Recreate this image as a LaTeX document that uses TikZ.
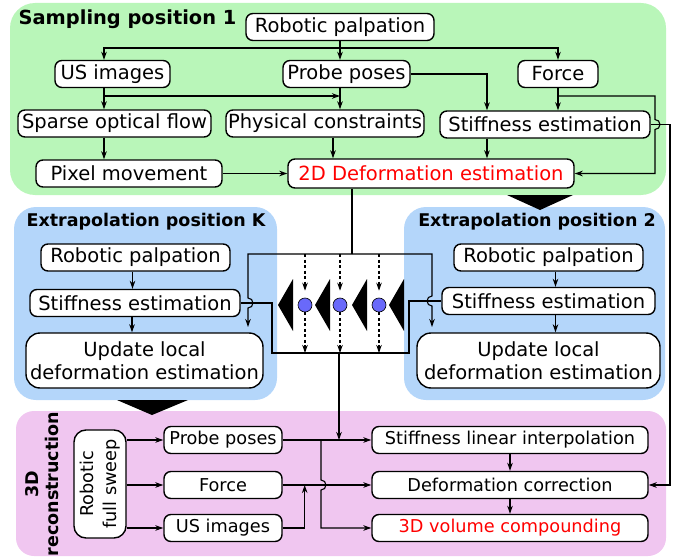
\documentclass[tikz,border=0pt]{standalone}
\usepackage{fontspec}
\setmainfont{DejaVu Sans}
\usepackage{tikz}
\usetikzlibrary{arrows.meta}
\definecolor{SampleGreen}{RGB}{185,246,185}
\definecolor{ExtraBlue}{RGB}{180,214,250}
\definecolor{ReconPink}{RGB}{240,198,240}
\definecolor{MarkerBlue}{RGB}{105,105,250}
\definecolor{OutRed}{RGB}{255,0,0}

\tikzset{
  box/.style={draw,fill=white,rounded corners=7pt,line width=1.4pt,
              minimum height=27pt,inner sep=2pt,
              font=\fontsize{19.5}{22}\selectfont},
  recbox/.style={box,font=\fontsize{17.7}{21}\selectfont},
  bigbox/.style={box,rounded corners=14pt,minimum height=55pt,align=center,
                 font=\fontsize{19.5}{23}\selectfont},
  title/.style={font=\bfseries\fontsize{17.5}{20}\selectfont},
  arr/.style={-{Stealth[length=8pt,width=5.5pt]},line width=1.1pt},
  wire/.style={line width=1.1pt},
  dot/.style={circle,draw,fill=MarkerBlue,line width=0.6pt,minimum size=14pt,inner sep=0pt},
}

\begin{document}
\begin{tikzpicture}[x=1pt,y=-1pt]
  \useasboundingbox (0,0) rectangle (680,559);

  % regions
  \fill[SampleGreen,rounded corners=25pt] (10,3) rectangle (666,195);
  \fill[ExtraBlue,rounded corners=22pt] (14,207) rectangle (277,400);
  \fill[ExtraBlue,rounded corners=22pt] (404,207) rectangle (665,400);
  \fill[ReconPink,rounded corners=18pt] (16,411) rectangle (666,556);
  \fill (507,195) -- (573,195) -- (540,210) -- cycle;
  \fill (117,400) -- (188,400) -- (152,415) -- cycle;

  % sampling position 1
  \node[title,font=\bfseries\fontsize{19.4}{22}\selectfont] (tS) at (127.5,19) {Sampling position 1};
  \node[box,minimum width=188pt] (rp1) at (340,27) {Robotic palpation};
  \node[box,minimum width=115pt] (us1) at (112.5,74) {US images};
  \node[box,minimum width=127pt] (pp1) at (346.5,74) {Probe poses};
  \node[box,minimum width=80pt]  (f1)  at (558,74) {Force};
  \node[box,minimum width=193pt] (sof1) at (114.5,123.5) {Sparse optical flow};
  \node[box,minimum width=198pt] (pc1) at (325,123.5) {Physical constraints};
  \node[box,minimum width=210pt] (se1) at (545,124.5) {Stiffness estimation};
  \node[box,minimum width=186pt] (pm1) at (129,173.5) {Pixel movement};
  \node[box,minimum width=286pt,minimum height=29pt,text=OutRed] (de1) at (431,173.5) {2D Deformation estimation};

  \coordinate (fork1) at (340,48);
  \coordinate (fork2) at (104,96);
  \coordinate (fork3) at (558,96);
  \coordinate (rail) at (670,0);

  \draw[wire] (rp1.south) -- (fork1);
  \draw[arr] (fork1) -- (fork1 |- pp1.north);
  \draw[arr] (fork1) -| (fork2 |- us1.north);
  \draw[arr] (fork1) -| (f1.north);
  \draw[arr] (fork2 |- us1.south) -- (fork2 |- sof1.north);
  \draw[arr] (fork2) -- (fork1 |- fork2);
  \draw[arr] (fork1 |- pp1.south) -- (fork1 |- pc1.north);
  \draw[arr] (pp1.east) -| ([xshift=-58pt]se1.north);
  \draw[arr] (f1.south) -- (f1.south |- se1.north);
  \draw[arr] (fork3) -- ++(97,0) -- ++(0,23.5) arc(-90:90:5) |- (de1.east);
  \draw[arr] (fork2 |- sof1.south) -- (fork2 |- pm1.north);
  \draw[arr] (pm1.east) -- (de1.west);
  \draw[arr] ([xshift=8pt]pc1.south) -- ([xshift=8pt]pc1.south |- de1.north);
  \draw[arr] ([xshift=-58pt]se1.south) -- ([xshift=-58pt]se1.south |- de1.north);

  % extrapolation position K
  \node[title] (tK) at (146,222) {Extrapolation position K};
  \node[box,minimum width=189pt] (rpK) at (135.5,257.5) {Robotic palpation};
  \node[box,minimum width=210pt] (seK) at (135,303) {Stiffness estimation};
  \node[bigbox,minimum width=237pt] (updK) at (144.5,360.5) {Update local\\deformation estimation};
  \draw[arr] ([xshift=-3pt]rpK.south) -- ([xshift=-3pt]rpK.south |- seK.north);
  \draw[arr] ([xshift=-3pt]seK.south) -- ([xshift=-3pt]seK.south |- updK.north);

  % extrapolation position 2
  \node[title] (t2) at (537,222) {Extrapolation position 2};
  \node[box,minimum width=189pt] (rp2) at (548.5,257.5) {Robotic palpation};
  \node[box,minimum width=213pt] (se2) at (548.5,301) {Stiffness estimation};
  \node[bigbox,minimum width=243pt] (upd2) at (538.5,360.5) {Update local\\deformation estimation};
  \draw[arr] ([xshift=7pt]rp2.south) -- ([xshift=7pt]rp2.south |- se2.north);
  \draw[arr] ([xshift=7pt]se2.south) -- ([xshift=7pt]se2.south |- upd2.north);

  % hand-over between positions
  \coordinate (hub) at (352,254);
  \coordinate (merge) at (339,353);
  \draw[wire] (de1.south -| hub) -- (hub);
  \draw[arr] (hub) -- (248,254) -- (248,298) arc(-90:90:5) -- (248,327);
  \draw[arr] (hub) -- (432,254) -- (432,296) arc(270:90:5) -- (432,327);
  \draw[wire] (seK.east) -- (272,303) -- (272,353) -- (409,353) -- (409,301) -- (se2.west);
  \foreach \tx in {278,315,352,389}
    \fill (\tx,305) -- ++(15,-26) -- ++(0,52) -- cycle;
  \foreach \cx [count=\i] in {305,340,379} {
    \node[dot] (dot\i) at (\cx,305) {};
    \draw[arr,dashed,dash pattern=on 3pt off 2.5pt,shorten >=7pt] (\cx,254) -- (dot\i);
    \draw[arr,dashed,dash pattern=on 3pt off 2.5pt] (dot\i) -- (\cx,353);
  }

  % 3D reconstruction
  \node[title,rotate=90,align=center] (tR) at (42,484) {3D\\reconstruction};
  \node[recbox,rotate=90,align=center,rounded corners=12pt,minimum width=108pt,
        minimum height=52pt,font=\fontsize{17.7}{23}\selectfont] (sweep) at (100,484) {Robotic\\full sweep};
  \node[recbox,minimum width=118pt] (pp3) at (223,440) {Probe poses};
  \node[recbox,minimum width=118pt] (f3)  at (223,485) {Force};
  \node[recbox,minimum width=118pt] (us3) at (223,528) {US images};
  \node[recbox,minimum width=276pt] (sli) at (510,440) {Stiffness linear interpolation};
  \node[recbox,minimum width=276pt] (dc)  at (510,485) {Deformation correction};
  \node[recbox,minimum width=276pt,text=OutRed] (vc) at (510,528) {3D volume compounding};

  \coordinate (tap) at (321,440);
  \draw[arr] (sweep.south |- pp3) -- (pp3.west);
  \draw[arr] (sweep.south |- f3) -- (f3.west);
  \draw[arr] (sweep.south |- us3) -- (us3.west);
  \draw[arr] (pp3.east) -- (sli.west);
  \draw[arr] (tap) -- ++(0,40) arc(-90:90:5) |- (vc.west);
  \draw[arr] (f3.east) -- (dc.west);
  \draw[arr] (us3.east) -| ([xshift=22pt]f3.east);
  \draw[arr] (sli.south) -- (dc.north);
  \draw[arr] (dc.south) -- (vc.north);
  \draw[arr] (merge) -- (merge |- pp3.east);
  \draw[arr] (se1.east) -- (se1.east -| rail) |- (dc.east);
\end{tikzpicture}
\end{document}
